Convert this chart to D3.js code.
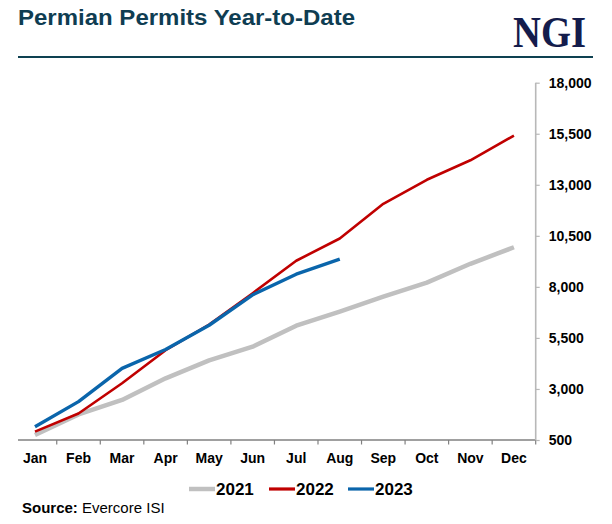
<!DOCTYPE html>
<html><head><meta charset="utf-8">
<script src="https://cdn.jsdelivr.net/npm/d3@7"></script>
<style>body{margin:0;background:#fff}svg{display:block}</style>
</head><body>
<svg id="c" width="612" height="524"></svg>
<script>
const months = ["Jan","Feb","Mar","Apr","May","Jun","Jul","Aug","Sep","Oct","Nov","Dec"];
const s2021 = [745,1750,2460,3520,4400,5070,6100,6790,7520,8210,9130,9940];
const s2022 = [910,1800,3280,4900,6150,7690,9280,10370,12070,13245,14200,15410];
const s2023 = [1150,2380,4010,4930,6120,7610,8620,9357];
const yTicks = [500,3000,5500,8000,10500,13000,15500,18000];
const seriesNames = ["2021","2022","2023"];
const seriesColors = ["#c0c0c0","#c00000","#0a65ab"];
const seriesWidths = [4.5,2.6,3.4];

const svg = d3.select("#c");
const font = "Liberation Sans, Arial, sans-serif";

// title
svg.append("text").attr("x",18).attr("y",25).attr("font-family",font).attr("font-weight","bold")
  .attr("font-size",22.5).attr("textLength",337).attr("lengthAdjust","spacingAndGlyphs")
  .attr("fill","#0f3d52").text("Permian Permits Year-to-Date");
svg.append("text").attr("x",513).attr("y",46.5).attr("font-family","Liberation Serif, Times New Roman, serif")
  .attr("font-weight","bold").attr("font-size",45).attr("textLength",73).attr("lengthAdjust","spacingAndGlyphs")
  .attr("fill","#141c4c").text("NGI");
svg.append("line").attr("x1",18).attr("x2",593).attr("y1",57).attr("y2",57)
  .attr("stroke","#0e4151").attr("stroke-width",2.2);

const x = d3.scaleBand().domain(months).range([13.2,535.7]);
const y = d3.scaleLinear().domain([500,18000]).range([440,82.7]);

// x axis
const xa = svg.append("g").attr("transform","translate(0,440)")
  .call(d3.axisBottom(x).tickSize(0).tickPadding(0));
xa.select(".domain").remove();
xa.selectAll("text").attr("font-family",font).attr("font-weight","bold").attr("font-size",14)
  .attr("fill","#000").attr("dy",null).attr("y",23);
svg.append("line").attr("x1",18).attr("x2",535.7).attr("y1",440).attr("y2",440).attr("stroke","#808080").attr("stroke-width",1.5);
svg.append("g").selectAll("line").data(months).join("line")
  .attr("x1",d=>x(d)+x.bandwidth()).attr("x2",d=>x(d)+x.bandwidth())
  .attr("y1",440).attr("y2",444.5).attr("stroke","#808080").attr("stroke-width",1.2);

// y axis (right)
const ya = svg.append("g").attr("transform","translate(535.7,0)")
  .call(d3.axisRight(y).tickValues(yTicks).tickFormat(d3.format(",")).tickSize(4).tickPadding(9));
ya.select(".domain").attr("stroke","#b8b8b8").attr("stroke-width",1.6).attr("d","M0,82.7V440");
ya.selectAll(".tick line").attr("stroke","#b8b8b8").attr("stroke-width",1.2);
ya.selectAll("text").attr("font-family",font).attr("font-weight","bold").attr("font-size",14).attr("fill","#000");

// lines
const line = d3.line().x((d,i)=>x(months[i])+x.bandwidth()/2).y(d=>y(d));
[s2021,s2022,s2023].forEach((s,k)=>{
  svg.append("path").datum(s).attr("d",line).attr("fill","none")
    .attr("stroke",seriesColors[k]).attr("stroke-width",seriesWidths[k]).attr("stroke-linejoin","round");
});

// legend
const legX = [189,269,348];
seriesNames.forEach((n,k)=>{
  svg.append("line").attr("x1",legX[k]).attr("x2",legX[k]+26).attr("y1",489).attr("y2",489)
    .attr("stroke",seriesColors[k]).attr("stroke-width",k===0?4.5:3.2);
  svg.append("text").attr("x",legX[k]+27).attr("y",495).attr("font-family",font).attr("font-weight","bold")
    .attr("font-size",17).attr("fill","#000").text(n);
});

// source
const src = svg.append("text").attr("x",22).attr("y",513).attr("font-family",font).attr("font-size",15).attr("fill","#000");
src.append("tspan").attr("font-weight","bold").text("Source:");
src.append("tspan").text(" Evercore ISI");
</script>
</body></html>
